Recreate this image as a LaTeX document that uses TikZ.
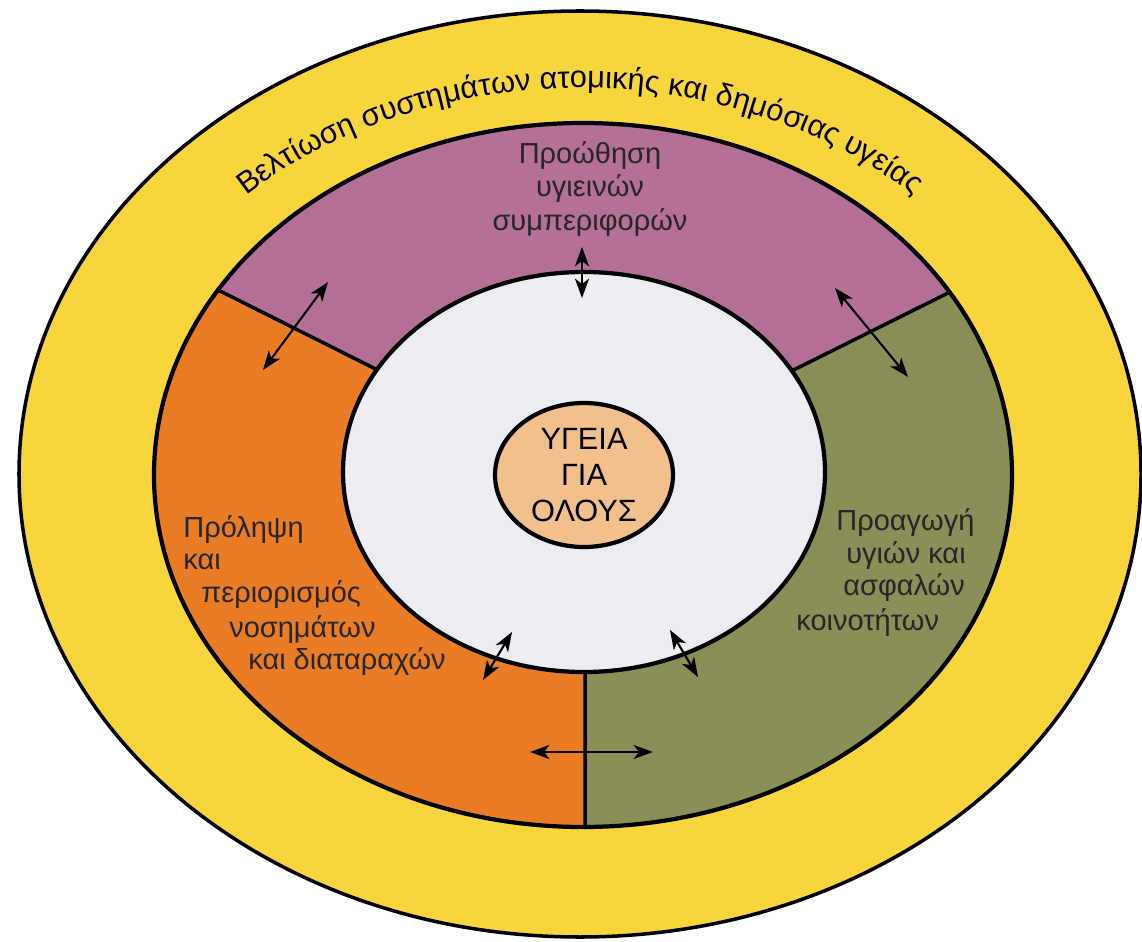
\documentclass[tikz,border=0pt]{standalone}
\usepackage{fontspec}
\setmainfont{Liberation Sans}
\usetikzlibrary{arrows.meta,shapes.geometric,decorations.text}
\definecolor{bandYellow}{RGB}{247,213,60}
\definecolor{sectorMauve}{RGB}{180,112,150}
\definecolor{sectorOrange}{RGB}{234,124,38}
\definecolor{sectorOlive}{RGB}{138,143,88}
\definecolor{innerPale}{RGB}{236,236,241}
\definecolor{corePeach}{RGB}{242,192,140}
\newcommand{\arcfont}{\fontsize{17.5}{20}\selectfont}

\begin{document}
\begin{tikzpicture}[
  x=0.02cm, y=0.02cm,
  ring/.style={draw=black, line width=2.4pt},
  twoway/.style={{Stealth[length=11pt,width=8pt,inset=3pt]}-{Stealth[length=11pt,width=8pt,inset=3pt]}, line width=1.2pt},
  lbl/.style={font=\fontsize{16.5}{19}\selectfont, text=black!85, inner sep=0pt}
]
\useasboundingbox (0,0) rectangle (1142,941);
\coordinate (c) at (585,467);

\filldraw[fill=bandYellow, draw=black, line width=2pt] (580,467) ellipse [x radius=561, y radius=463];
\path[decorate, decoration={text along path, text align=center,
  text={|\arcfont|Βελτίωση συστημάτων ατομικής και δημόσιας υγείας}}]
  (580,467) ++(150:482 and 386) arc [start angle=150, end angle=30, x radius=482, y radius=386];

\fill[sectorMauve] (583,466) ellipse [x radius=429, y radius=352];
\begin{scope}
  \clip (583,466) ellipse [x radius=429, y radius=352];
  \fill[sectorOrange] (c) -- ++(-734,368) -- (-200,-100) -- (585,-100) -- cycle;
  \fill[sectorOlive] (c) -- ++(730,364) -- (1300,-100) -- (585,-100) -- cycle;
  \draw[line width=2pt] (c) -- ++(-734,368) (c) -- ++(730,364) (c) -- (585,-100);
\end{scope}
\draw[ring] (583,466) ellipse [x radius=429, y radius=352];
\filldraw[fill=innerPale, ring] (584,469) ellipse [x radius=241, y radius=200];

\node[ellipse, ring, fill=corePeach, minimum width=3.56cm, minimum height=2.88cm, inner sep=0pt,
  align=center, font=\fontsize{17.5}{20.4}\selectfont] (core) at (584,466) {ΥΓΕΙΑ\\ΓΙΑ\\ΟΛΟΥΣ};

\node[lbl, align=center] (promo) at (590,752) {Προώθηση\\υγιεινών\\συμπεριφορών};

\node[lbl, anchor=base west] (prev1) at (183,404) {Πρόληψη};
\node[lbl, anchor=base west] (prev2) at (183,372) {και};
\node[lbl, anchor=base west] (prev3) at (201,339) {περιορισμός};
\node[lbl, anchor=base west] (prev4) at (229,304) {νοσημάτων};
\node[lbl, anchor=base west] (prev5) at (248,272) {και διαταραχών};

\node[lbl, anchor=base west] (comm1) at (836,411) {Προαγωγή};
\node[lbl, anchor=base west] (comm2) at (846,378) {υγιών και};
\node[lbl, anchor=base west] (comm3) at (843,346) {ασφαλών};
\node[lbl, anchor=base west] (comm4) at (796,311) {κοινοτήτων};

\coordinate (topA) at (582,694);
\coordinate (topB) at (582,643);
\coordinate (ulA) at (263,571);
\coordinate (ulB) at (328,659);
\coordinate (urA) at (835,653);
\coordinate (urB) at (908,564);
\coordinate (llA) at (483,261);
\coordinate (llB) at (512,309);
\coordinate (lrA) at (670,311);
\coordinate (lrB) at (698,264);
\coordinate (botA) at (530,189);
\coordinate (botB) at (653,189);

\draw[twoway] (topA) -- (topB);
\draw[twoway] (ulA) -- (ulB);
\draw[twoway] (urA) -- (urB);
\draw[twoway] (llA) -- (llB);
\draw[twoway] (lrA) -- (lrB);
\draw[twoway] (botA) -- (botB);
\end{tikzpicture}
\end{document}
